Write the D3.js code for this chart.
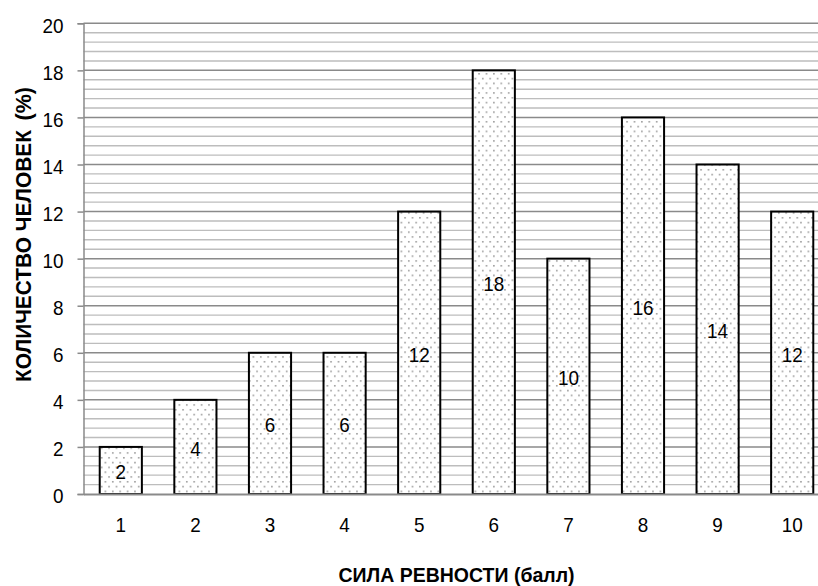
<!DOCTYPE html>
<html><head><meta charset="utf-8">
<script src="https://cdn.jsdelivr.net/npm/d3@7"></script>
<style>
body{margin:0;background:#fff;}
svg{display:block;}
text{font-family:"Liberation Sans Narrow","Arial Narrow","Liberation Sans",Arial,sans-serif;}
</style></head>
<body>
<svg id="chart" width="818" height="586"></svg>
<script>
const categories = ["1","2","3","4","5","6","7","8","9","10"];
const values = [2,4,6,6,12,18,10,16,14,12];
const yTicks = [0,2,4,6,8,10,12,14,16,18,20];
const xTitle = "СИЛА РЕВНОСТИ (балл)";
const yTitleMain = "КОЛИЧЕСТВО ЧЕЛОВЕК";
const yTitleUnit = "(%)";

(function(){
const svg = d3.select("#chart");
const pL = 83.5, pR = 829.5, pT = 23.3, pB = 494;
const fontFam = '"Liberation Sans Narrow","Arial Narrow","Liberation Sans",Arial,sans-serif';
const fs = 21;
const digitW = 10.5;
function condense(sel){
  sel.attr("textLength", function(){ return this.textContent.length * digitW; })
     .attr("lengthAdjust","spacingAndGlyphs");
}

const defs = svg.append("defs");
const pat = defs.append("pattern").attr("id","dots").attr("patternUnits","userSpaceOnUse")
  .attr("width",7.4).attr("height",9.6);
pat.append("rect").attr("width",7.4).attr("height",9.6).attr("fill","#fff");
pat.append("circle").attr("cx",1.8).attr("cy",1.8).attr("r",0.85).attr("fill","#888");
pat.append("circle").attr("cx",5.5).attr("cy",6.6).attr("r",0.85).attr("fill","#888");

const x = d3.scaleBand().domain(categories).range([pL, pR]).paddingInner(0.435).paddingOuter(0.2175);
const y = d3.scaleLinear().domain([0,20]).range([pB, pT]);

const minor = d3.range(0, 20.001, 0.4).filter(v => Math.abs(v/2 - Math.round(v/2)) > 1e-6);
svg.append("g").selectAll("line").data(minor).join("line")
  .attr("x1", pL).attr("x2", 818).attr("y1", d => y(d)).attr("y2", d => y(d))
  .attr("stroke","#bdbdbd").attr("stroke-width",1.4);
svg.append("g").selectAll("line").data(yTicks.filter(d=>d>0)).join("line")
  .attr("x1", pL).attr("x2", 818).attr("y1", d => y(d)).attr("y2", d => y(d))
  .attr("stroke","#8a8a8a").attr("stroke-width",1.5);

const yAxis = svg.append("g").attr("transform",`translate(${pL},0)`)
  .call(d3.axisLeft(y).tickValues(yTicks).tickSize(6).tickPadding(14));
yAxis.select(".domain").attr("stroke","#8a8a8a").attr("stroke-width",1.5);
yAxis.selectAll(".tick line").attr("stroke","#8a8a8a").attr("stroke-width",1.5);
yAxis.selectAll(".tick text").attr("font-size",fs).attr("fill","#000").attr("dy","0.42em")
  .style("font-family",fontFam).call(condense);

svg.append("g").selectAll("rect").data(values).join("rect")
  .attr("x",(d,i)=>x(categories[i])).attr("width",x.bandwidth())
  .attr("y",d=>y(d)).attr("height",d=>pB - y(d))
  .attr("fill","url(#dots)").attr("stroke","#000").attr("stroke-width",2);

const xAxis = svg.append("g").attr("transform",`translate(0,${pB})`)
  .call(d3.axisBottom(x).tickSize(0).tickPadding(23));
xAxis.select(".domain").attr("stroke","#8a8a8a").attr("stroke-width",2);
xAxis.selectAll(".tick text").attr("font-size",fs).attr("fill","#000")
  .style("font-family",fontFam).call(condense);

svg.append("g").selectAll("text").data(values).join("text")
  .attr("x",(d,i)=>x(categories[i]) + x.bandwidth()/2)
  .attr("y",d=>(y(d)+pB)/2)
  .attr("dy","0.42em").attr("text-anchor","middle")
  .attr("font-size",fs).attr("fill","#000")
  .text(d=>d).call(condense);

svg.append("text").attr("x",(pL+pR)/2).attr("y",582).attr("text-anchor","middle")
  .attr("font-size",20).attr("font-weight","bold")
  .attr("textLength",236).attr("lengthAdjust","spacingAndGlyphs").text(xTitle);

const g = svg.append("g").attr("transform","translate(31,0) rotate(-90)");
g.append("text").attr("x",-382).attr("font-size",21.5).attr("font-weight","bold")
  .attr("textLength",252).attr("lengthAdjust","spacingAndGlyphs").text(yTitleMain);
g.append("text").attr("x",-87).attr("text-anchor","end").attr("font-size",21.5).attr("font-weight","bold")
  .text(yTitleUnit);
})();
</script>
</body></html>
